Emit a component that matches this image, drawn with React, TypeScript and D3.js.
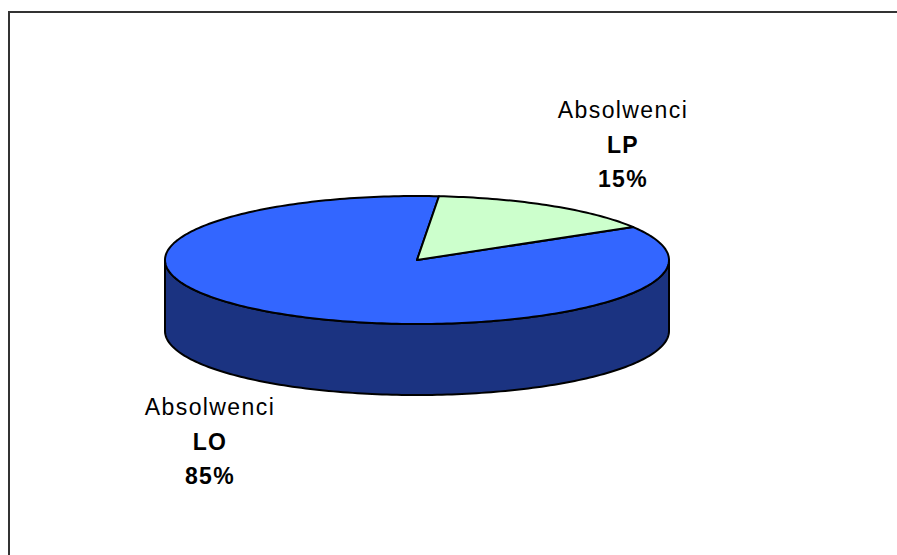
import React from "react";
import * as d3 from "d3";

// Graduates by school type
const categories = ["Absolwenci LO", "Absolwenci LP"];
const groupNames = ["LO", "LP"];
const shares = [85, 15];
const topColors = ["#3366ff", "#ccffcc"];
const sideColors = ["#1b3381", "#8eb38e"];

const W = 897;
const H = 555;
const cx = 417;
const cy = 260;
const rx = 252;
const ry = 64;
const depth = 71;
// LO slice begins here (clockwise from 12 o'clock)
const rotation = (59 * Math.PI) / 180;

const pt = (a: number, dy = 0): [number, number] => [
  cx + rx * Math.sin(a),
  cy - ry * Math.cos(a) + dy,
];

const sample = (a0: number, a1: number, dy = 0) => {
  const n = Math.max(2, Math.ceil(Math.abs(a1 - a0) / 0.02));
  return d3.range(n + 1).map((i) => pt(a0 + ((a1 - a0) * i) / n, dy));
};

export default function App() {
  const pie = d3
    .pie<number>()
    .sort(null)
    .value((d) => d)
    .startAngle(rotation)
    .endAngle(rotation + 2 * Math.PI);
  const arcs = pie(shares);
  const line = d3.line();

  const tops = arcs.map((a) => {
    const pts = [[cx, cy] as [number, number], ...sample(a.startAngle, a.endAngle)];
    return line(pts) + "Z";
  });

  // front wall: visible between 90° and 270°
  const sides: { d: string; i: number }[] = [];
  arcs.forEach((a, i) => {
    for (const k of [0, 2 * Math.PI]) {
      const s = Math.max(a.startAngle - k, Math.PI / 2);
      const e = Math.min(a.endAngle - k, (3 * Math.PI) / 2);
      if (e > s) {
        const pts = [...sample(s, e), ...sample(e, s, depth)];
        sides.push({ d: line(pts) + "Z", i });
      }
    }
  });

  const labels = [
    { x: 210, y: 415 },
    { x: 623, y: 118 },
  ];

  const fam = "'Liberation Sans', Arial, sans-serif";

  return (
    <svg
      width={W}
      height={H}
      style={{ position: "absolute", left: 0, top: 0, background: "#fff" }}
    >
      <rect x={9} y={12} width={W + 10} height={H + 10} fill="#fff" stroke="#333" strokeWidth={2} />
      {sides.map((s, j) => (
        <path key={"s" + j} d={s.d} fill={sideColors[s.i]} stroke="#000" strokeWidth={2} strokeLinejoin="round" />
      ))}
      {tops.map((d, i) => (
        <path key={"t" + i} d={d} fill={topColors[i]} stroke="#000" strokeWidth={2} strokeLinejoin="round" />
      ))}
      {labels.map((l, i) => (
        <text
          key={categories[i]}
          x={l.x}
          y={l.y}
          textAnchor="middle"
          fontFamily={fam}
          fontSize={23}
          letterSpacing={1.4}
          fill="#000"
        >
          <tspan x={l.x}>Absolwenci</tspan>
          <tspan x={l.x} dy={35} fontWeight="bold">{groupNames[i]}</tspan>
          <tspan x={l.x} dy={34} fontWeight="bold">{shares[i] + "%"}</tspan>
        </text>
      ))}
    </svg>
  );
}
